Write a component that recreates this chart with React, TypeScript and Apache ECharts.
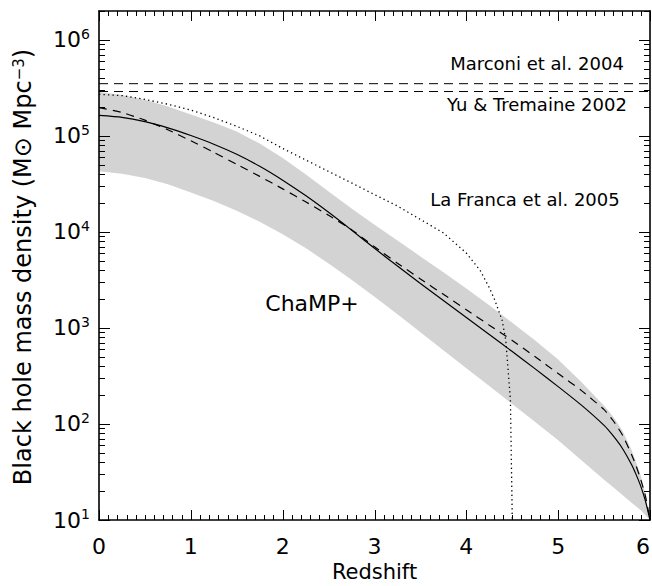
import React, { useEffect, useRef } from 'react';
import * as echarts from 'echarts';

// Redshift grid shared by the ChaMP+ curves and the shaded range
const redshiftGrid = [0, 0.25, 0.5, 0.75, 1, 1.25, 1.5, 1.75, 2, 2.25, 2.5, 2.75, 3, 3.25, 3.5, 3.75, 4, 4.25, 4.5, 4.75, 5, 5.25, 5.5, 5.6, 5.7, 5.8, 5.85, 5.9, 5.95, 6];

// ChaMP+ best estimate (solid)
const champSolid = [1.637e5, 1.563e5, 1.409e5, 1.213e5, 1.009e5, 8.2e4, 6.44e4, 4.83e4, 3.46e4, 2.39e4, 1.6e4, 1.045e4, 6.75e3, 4.41e3, 2.91e3, 1.93e3, 1.285e3, 855, 568, 375, 245, 158, 96.6, 75.0, 55.6, 37.6, 29.5, 22.4, 15.8, 10];

// ChaMP+ alternative (dashed)
const champDashed = [1.968e5, 1.754e5, 1.459e5, 1.159e5, 8.89e4, 6.75e4, 5.06e4, 3.79e4, 2.81e4, 2.06e4, 1.49e4, 1.057e4, 7.0e3, 4.73e3, 3.24e3, 2.24e3, 1.55e3, 1.07e3, 741, 501, 335, 224, 141, 108, 76.7, 47.9, 36.3, 26.3, 17.8, 10];

// ChaMP+ shaded range: upper and lower edges
const bandUpper = [2.864e5, 2.673e5, 2.382e5, 2.028e5, 1.667e5, 1.38e5, 1.109e5, 8.32e4, 5.89e4, 3.98e4, 2.63e4, 1.758e4, 1.189e4, 8.13e3, 5.56e3, 3.8e3, 2.57e3, 1.72e3, 1.135e3, 741, 468, 275, 155, 119, 85.1, 53.7, 39.8, 28.8, 18.6, 10];
const bandLower = [4.285e4, 4.046e4, 3.648e4, 3.141e4, 2.582e4, 2.099e4, 1.667e4, 1.279e4, 9.48e3, 6.79e3, 4.7e3, 3.18e3, 2.12e3, 1.39e3, 902, 586, 381, 248, 161, 105, 67.6, 42.2, 26.3, 21.9, 18.2, 15.1, 13.8, 12.6, 11.2, 10];

// La Franca et al. 2005 (dotted)
const laFrancaZ = [0, 0.25, 0.5, 0.75, 1, 1.25, 1.5, 1.75, 2, 2.25, 2.5, 2.75, 3, 3.25, 3.5, 3.75, 4, 4.15, 4.25, 4.31, 4.39, 4.43, 4.48, 4.5];
const laFranca = [2.71e5, 2.63e5, 2.4e5, 2.14e5, 1.86e5, 1.55e5, 1.26e5, 1.0e5, 7.41e4, 5.62e4, 4.27e4, 3.24e4, 2.45e4, 1.86e4, 1.35e4, 9.77e3, 6.03e3, 3.98e3, 2.63e3, 1.95e3, 1.2e3, 741, 178, 10];

// Local reference values
const marconiValue = 3.5e5;
const yuTremaineValue = 2.9e5;
const lineSpan = [0, 6];

// Axes
const xMin = 0;
const xMax = 6;
const yMin = 10;
const yMax = 2e6;
const yExponents = [1, 2, 3, 4, 5, 6];
const xMinorSteps = 10;

const annotationTexts = ['Marconi et al. 2004', 'Yu & Tremaine 2002', 'La Franca et al. 2005', 'ChaMP+'];

const FONT = 'DejaVu Sans';

export default function App() {
  const ref = useRef<HTMLDivElement>(null);

  useEffect(() => {
    if (!ref.current) return;
    const chart = echarts.init(ref.current, undefined, { renderer: 'svg' });

    const logMin = Math.log10(yMin);
    const logMax = Math.log10(yMax);

    const yDecor = (position: 'left' | 'right', labels: boolean) => ({
      type: 'value',
      min: logMin,
      max: logMax,
      position,
      z: 6,
      axisLine: { show: true, lineStyle: { color: '#000', width: 1.6 } },
      axisTick: { show: false },
      splitLine: { show: false },
      minorTick: { show: false },
      axisLabel: labels
        ? {
            show: true,
            customValues: yExponents.slice(),
            margin: 9,
            formatter: (v: number) => `{b|10}{s|${Math.round(v)}}`,
            rich: {
              b: { fontSize: 22, fontFamily: FONT, color: '#000', lineHeight: 26 },
              s: { fontSize: 14, fontFamily: FONT, color: '#000', verticalAlign: 'top', lineHeight: 16 },
            },
          }
        : { show: false },
    });

    const xDecor = (position: 'top' | 'bottom', labels: boolean) => ({
      type: 'value',
      min: xMin,
      max: xMax,
      interval: 1,
      position,
      z: 6,
      axisLine: { show: true, onZero: false, lineStyle: { color: '#000', width: 1.6 } },
      axisTick: { show: false },
      minorTick: { show: false },
      splitLine: { show: false },
      minorSplitLine: { show: false },
      axisLabel: labels
        ? { show: true, fontSize: 22, fontFamily: FONT, color: '#000', margin: 15, hideOverlap: false, alignMaxLabel: 'right' }
        : { show: false },
      name: labels ? 'Redshift' : '',
      nameLocation: 'middle',
      nameGap: 40,
      nameTextStyle: { fontSize: 21, fontFamily: FONT, color: '#000' },
    });

    const bandSeries = {
      type: 'custom',
      name: 'ChaMP+ range',
      xAxisIndex: 0,
      yAxisIndex: 0,
      z: 1,
      silent: true,
      data: [[redshiftGrid[0], bandLower[0]]],
      renderItem: (_params: any, api: any) => {
        const pts: number[][] = [];
        for (let i = 0; i < redshiftGrid.length; i++) pts.push(api.coord([redshiftGrid[i], bandUpper[i]]));
        for (let i = redshiftGrid.length - 1; i >= 0; i--) pts.push(api.coord([redshiftGrid[i], bandLower[i]]));
        return { type: 'polygon', shape: { points: pts }, style: { fill: '#d3d3d3', stroke: 'none' } };
      },
    };

    const lineBase = {
      type: 'line',
      xAxisIndex: 0,
      yAxisIndex: 0,
      showSymbol: false,
      symbol: 'none',
      silent: true,
      z: 3,
    };

    const textElements: any[] = [
      {
        type: 'text',
        x: 23,
        y: 267,
        rotation: Math.PI / 2,
        silent: true,
        z: 100,
        style: {
          text: 'Black hole mass density (M⊙ Mpc{s|−3})',
          fontFamily: FONT,
          fontSize: 24,
          fill: '#000',
          align: 'center',
          verticalAlign: 'middle',
          rich: {
            s: { fontSize: 15, fontFamily: FONT, fill: '#000', verticalAlign: 'top', lineHeight: 16 },
          },
        },
      },
      {
        type: 'text', x: 537, y: 63, silent: true, z: 100,
        style: { text: annotationTexts[0], fontFamily: FONT, fontSize: 18, fill: '#000', align: 'center', verticalAlign: 'middle' },
      },
      {
        type: 'text', x: 537, y: 104, silent: true, z: 100,
        style: { text: annotationTexts[1], fontFamily: FONT, fontSize: 18, fill: '#000', align: 'center', verticalAlign: 'middle' },
      },
      {
        type: 'text', x: 525, y: 199, silent: true, z: 100,
        style: { text: annotationTexts[2], fontFamily: FONT, fontSize: 18, fill: '#000', align: 'center', verticalAlign: 'middle' },
      },
      {
        type: 'text', x: 312, y: 303, silent: true, z: 100,
        style: { text: annotationTexts[3], fontFamily: FONT, fontSize: 22, fill: '#000', align: 'center', verticalAlign: 'middle' },
      },
    ];

    const option: any = {
      animation: false,
      backgroundColor: '#ffffff',
      textStyle: { fontFamily: FONT },
      grid: { left: 99, right: 2, top: 11, bottom: 66, containLabel: false, outerBoundsMode: 'none' },
      xAxis: [xDecor('bottom', true), xDecor('top', false)],
      yAxis: [
        { type: 'log', min: yMin, max: yMax, show: false, logBase: 10 },
        yDecor('left', true),
        yDecor('right', false),
      ],
      series: [
        bandSeries,
        {
          ...lineBase,
          name: 'Marconi et al. 2004',
          data: lineSpan.map((z) => [z, marconiValue]),
          lineStyle: { color: '#000', width: 1, type: [9, 6] },
        },
        {
          ...lineBase,
          name: 'Yu & Tremaine 2002',
          data: lineSpan.map((z) => [z, yuTremaineValue]),
          lineStyle: { color: '#000', width: 1, type: [9, 6] },
        },
        {
          ...lineBase,
          name: 'La Franca et al. 2005',
          data: laFrancaZ.map((z, i) => [z, laFranca[i]]),
          lineStyle: { color: '#000', width: 1.3, type: [1.3, 3.2] },
        },
        {
          ...lineBase,
          name: 'ChaMP+ dashed',
          smooth: 0.2,
          data: redshiftGrid.map((z, i) => [z, champDashed[i]]),
          lineStyle: { color: '#000', width: 1.2, type: [8, 6] },
        },
        {
          ...lineBase,
          name: 'ChaMP+',
          smooth: 0.2,
          data: redshiftGrid.map((z, i) => [z, champSolid[i]]),
          lineStyle: { color: '#000', width: 1.2, type: 'solid' },
        },
      ],
      graphic: { elements: textElements },
    };

    chart.setOption(option);

    // Tick marks placed through the chart's own axis scales
    const toPx = (z: number, v: number): number[] =>
      chart.convertToPixel({ xAxisIndex: 0, yAxisIndex: 0 } as any, [z, v]) as any;
    const tickStyle = { stroke: '#000', lineWidth: 1 };
    const tickElements: any[] = [];
    yExponents.forEach((e) => {
      for (let k = 1; k <= 9; k++) {
        const v = k * Math.pow(10, e);
        if (v > yMax) continue;
        const len = k === 1 ? 11 : 6;
        const pl = toPx(xMin, v);
        const pr = toPx(xMax, v);
        const y = Math.round(pl[1]) + 0.5;
        tickElements.push({ type: 'line', silent: true, z: 100, shape: { x1: pl[0], y1: y, x2: pl[0] + len, y2: y }, style: { ...tickStyle } });
        tickElements.push({ type: 'line', silent: true, z: 100, shape: { x1: pr[0] - len, y1: y, x2: pr[0], y2: y }, style: { ...tickStyle } });
      }
    });
    for (let i = 0; i <= (xMax - xMin) * xMinorSteps; i++) {
      const z = xMin + i / xMinorSteps;
      const len = i % xMinorSteps === 0 ? 10 : 5;
      const pb = toPx(z, yMin);
      const pt = toPx(z, yMax);
      const x = Math.round(pb[0]) + 0.5;
      tickElements.push({ type: 'line', silent: true, z: 100, shape: { x1: x, y1: pb[1], x2: x, y2: pb[1] - len }, style: { ...tickStyle } });
      tickElements.push({ type: 'line', silent: true, z: 100, shape: { x1: x, y1: pt[1], x2: x, y2: pt[1] + len }, style: { ...tickStyle } });
    }

    chart.setOption({ graphic: { elements: [...textElements, ...tickElements] } });

    return () => chart.dispose();
  }, []);

  return <div ref={ref} style={{ position: 'fixed', left: 0, top: 0, width: 652, height: 586 }} />;
}
